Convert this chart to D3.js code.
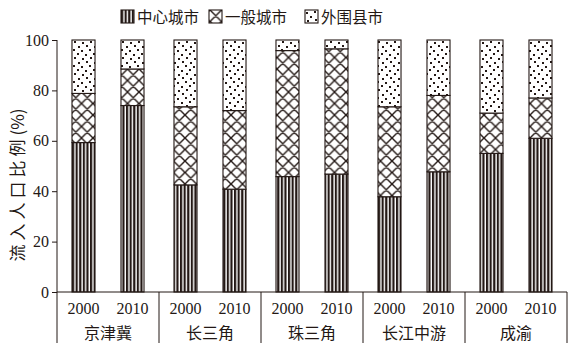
<!DOCTYPE html>
<html>
<head>
<meta charset="utf-8">
<script src="https://cdn.jsdelivr.net/npm/d3@7"></script>
<style>
  body { margin: 0; background: #fff; }
  svg text { fill: #231815; }
  .num { font-family: "Liberation Serif", "Times New Roman", serif; font-size: 16px; }
  .cjk { font-family: "Noto Sans CJK SC", sans-serif; font-size: 15px; }
</style>
</head>
<body>
<svg id="chart" width="584" height="353"></svg>
<script>
const regions = ['京津冀', '长三角', '珠三角', '长江中游', '成渝'];
const years = ['2000', '2010'];
const seriesNames = ['中心城市', '一般城市', '外围县市'];
// share of inflow population (%), [2000, 2010] per region
const centerCity = [[59.3, 74.0], [42.5, 40.8], [45.8, 46.8], [37.8, 47.7], [55.0, 61.0]];
const generalCity = [[19.5, 14.5], [31.0, 31.2], [50.0, 49.7], [35.7, 30.3], [16.0, 16.0]];
const outerCounty = [[21.2, 11.5], [26.5, 28.0], [4.2, 3.5], [26.5, 22.0], [29.0, 23.0]];
const yTicks = [0, 20, 40, 60, 80, 100];

const svg = d3.select('#chart');
const ink = '#231815';
const margin = {left: 57, right: 17, top: 40, bottom: 61};
const width = 584, height = 353;
const x0 = margin.left, x1 = width - margin.right;
const yBase = height - margin.bottom;
const yBottom = 343;

// patterns
const defs = svg.append('defs');
const pStripe = defs.append('pattern').attr('id', 'pat0')
  .attr('patternUnits', 'userSpaceOnUse').attr('width', 3.6).attr('height', 10);
pStripe.append('rect').attr('width', 3.6).attr('height', 10).attr('fill', '#fff');
pStripe.append('rect').attr('width', 2.2).attr('height', 10).attr('fill', ink);

const pCross = defs.append('pattern').attr('id', 'pat1')
  .attr('patternUnits', 'userSpaceOnUse').attr('width', 11.5).attr('height', 11.5)
  .attr('x', 1);
pCross.append('rect').attr('width', 11.5).attr('height', 11.5).attr('fill', '#fff');
pCross.append('path').attr('d', 'M0,0L11.5,11.5M11.5,0L0,11.5M-1,10.5L1,12.5M10.5,-1L12.5,1M-1,1L1,-1M10.5,12.5L12.5,10.5')
  .attr('stroke', ink).attr('stroke-width', 1.4).attr('fill', 'none');

const pDots = defs.append('pattern').attr('id', 'pat2')
  .attr('patternUnits', 'userSpaceOnUse').attr('width', 16).attr('height', 16);
pDots.append('rect').attr('width', 16).attr('height', 16).attr('fill', '#fff');
const dotSpots = [[1, 2], [9, 1], [5, 6], [13, 5], [2, 10], [10, 9], [6, 13], [14, 14]];
pDots.selectAll('rect.d').data(dotSpots).enter().append('rect')
  .attr('class', 'd')
  .attr('x', d => d[0]).attr('y', d => d[1])
  .attr('width', 2).attr('height', 2).attr('fill', ink);

// scales
const xOuter = d3.scaleBand().domain(regions).range([x0, x1]).padding(0);
const xInner = d3.scaleBand().domain(years).range([0, xOuter.bandwidth()])
  .paddingInner(0.53).paddingOuter(0.306);
const yScale = d3.scaleLinear().domain([0, 100]).range([yBase, margin.top]);

// data table
const rows = [];
regions.forEach((r, i) => {
  years.forEach((yr, j) => {
    const vals = [centerCity[i][j], generalCity[i][j], outerCounty[i][j]];
    let acc = 0;
    vals.forEach((v, k) => {
      rows.push({region: r, year: yr, k, y0: acc, y1: Math.min(100, acc + v)});
      acc += v;
    });
  });
});

const g = svg.append('g');
g.selectAll('rect.seg').data(rows).enter().append('rect')
  .attr('class', 'seg')
  .attr('x', d => xOuter(d.region) + xInner(d.year))
  .attr('width', xInner.bandwidth())
  .attr('y', d => yScale(d.y1))
  .attr('height', d => yScale(d.y0) - yScale(d.y1))
  .attr('fill', d => `url(#pat${d.k})`)
  .attr('stroke', ink)
  .attr('stroke-width', 1.1);

// y axis
const yAxisG = svg.append('g').attr('transform', `translate(${x0},0)`)
  .call(d3.axisLeft(yScale).tickValues(yTicks).tickSize(5).tickSizeOuter(0).tickPadding(3));
yAxisG.select('.domain').remove();
yAxisG.selectAll('line').attr('stroke', ink);
yAxisG.selectAll('text').attr('class', 'num').attr('font-family', null).attr('font-size', null);

// frame lines
svg.append('line').attr('x1', x0).attr('x2', x0).attr('y1', margin.top).attr('y2', yBottom)
  .attr('stroke', ink);
svg.append('line').attr('x1', x0).attr('x2', x1).attr('y1', yBase).attr('y2', yBase)
  .attr('stroke', ink);
svg.selectAll('line.sep').data(regions.slice(1).concat(['end'])).enter().append('line')
  .attr('class', 'sep')
  .attr('x1', d => d === 'end' ? x1 : xOuter(d))
  .attr('x2', d => d === 'end' ? x1 : xOuter(d))
  .attr('y1', yBase).attr('y2', yBottom)
  .attr('stroke', ink);

// year labels
regions.forEach(r => {
  svg.selectAll(null).data(years).enter().append('text')
    .attr('class', 'num')
    .attr('x', d => xOuter(r) + xInner(d) + xInner.bandwidth() / 2)
    .attr('y', yBase + 22)
    .attr('text-anchor', 'middle')
    .text(d => d);
});
svg.selectAll('text.reg').data(regions).enter().append('text')
  .attr('class', 'cjk reg')
  .attr('x', d => xOuter(d) + xOuter.bandwidth() / 2)
  .attr('y', yBase + 47)
  .attr('text-anchor', 'middle')
  .style('font-size', '16px')
  .text(d => d);

// y label
const yLab = svg.append('text').attr('class', 'cjk')
  .attr('transform', `translate(24,${(margin.top + yBase) / 2 + 19}) rotate(-90)`)
  .attr('text-anchor', 'middle')
  .style('font-size', '17px');
yLab.append('tspan').style('letter-spacing', '4px').text('流入人口比例');
yLab.append('tspan').text('(%)');

// legend
const legendX = [121, 209, 305];
const lg = svg.selectAll('g.leg').data(seriesNames).enter().append('g')
  .attr('class', 'leg')
  .attr('transform', (d, i) => `translate(${legendX[i]},10)`);
lg.append('rect').attr('width', 13).attr('height', 13)
  .attr('fill', (d, i) => `url(#pat${i})`)
  .attr('stroke', ink).attr('stroke-width', 1.1);
lg.append('text').attr('class', 'cjk')
  .attr('x', 16).attr('y', 12.5)
  .style('font-size', '15.5px')
  .text(d => d);
</script>
</body>
</html>
